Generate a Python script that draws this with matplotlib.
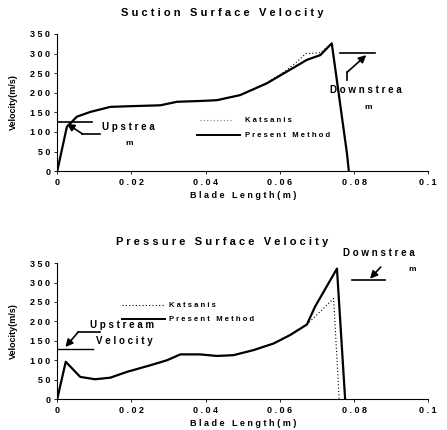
import numpy as np
import matplotlib
matplotlib.use("Agg")
import matplotlib.pyplot as plt

plt.rcParams['font.family'] = ['Liberation Sans', 'DejaVu Sans']
plt.rcParams['font.weight'] = 'bold'

# suction surface
suc_x = [0.0, 0.0026, 0.0053, 0.0089, 0.0143, 0.0206, 0.0278, 0.0323, 0.0385,
         0.0430, 0.0493, 0.0565, 0.0619, 0.0673, 0.0709, 0.0740, 0.0781, 0.0786]
suc_present = [0, 113, 139, 151, 164, 166, 168, 177, 179,
               181, 194, 224, 254, 284, 296, 326, 45, 0]
suc_kats_x = [0.0, 0.0026, 0.0053, 0.0089, 0.0143, 0.0206, 0.0278, 0.0323, 0.0385,
              0.0430, 0.0493, 0.0565, 0.0619, 0.0645, 0.0670, 0.0709, 0.0740, 0.0781, 0.0786]
suc_kats = [0, 113, 139, 151, 164, 166, 168, 177, 179,
            181, 194, 226, 258, 278, 300, 302, 326, 45, 0]

# pressure surface
pre_x = [0.0, 0.0023, 0.0062, 0.0102, 0.0143, 0.0188, 0.0251, 0.0296, 0.0332,
         0.0385, 0.0430, 0.0475, 0.0529, 0.0583, 0.0628, 0.0673, 0.0695, 0.0754, 0.0776]
pre_present = [0, 96, 57, 51, 55, 70, 87, 100, 115,
               115, 111, 113, 126, 143, 165, 192, 238, 336, 0]
pre_kats_x = [0.0, 0.0023, 0.0062, 0.0102, 0.0143, 0.0188, 0.0251, 0.0296, 0.0332,
              0.0385, 0.0430, 0.0475, 0.0529, 0.0583, 0.0628, 0.0673, 0.0745, 0.0760]
pre_kats = [0, 96, 57, 51, 55, 70, 87, 100, 115,
            115, 111, 113, 126, 143, 165, 192, 259, 0]

xticks = [0, 0.02, 0.04, 0.06, 0.08, 0.1]
xticklabels = ['0', '0 . 0 2', '0 . 0 4', '0 . 0 6', '0 . 0 8', '0 . 1']
yticks = [0, 50, 100, 150, 200, 250, 300, 350]
yticklabels = ['0', '5 0', '1 0 0', '1 5 0', '2 0 0', '2 5 0', '3 0 0', '3 5 0']


def spaced(s):
    return ' '.join(s)


def setup(ax, title):
    ax.set_xlim(0, 0.1)
    ax.set_ylim(0, 350)
    ax.spines['top'].set_visible(False)
    ax.spines['right'].set_visible(False)
    ax.set_xticks(xticks)
    ax.set_xticklabels(xticklabels, fontsize=6.5, fontweight='bold')
    ax.set_yticks(yticks)
    ax.set_yticklabels(yticklabels, fontsize=6.5, fontweight='bold')
    ax.tick_params(length=2, width=0.6, pad=3)
    # title sits centred on the page, a bit left of the axes centre
    ax.set_title(spaced(title), fontsize=8, fontweight='bold', pad=13, x=0.445)
    ax.set_xlabel(spaced('Blade Length(m)'), fontsize=6.5, fontweight='bold', labelpad=3)
    ax.set_ylabel('Velocity(m/s)', fontsize=6.5, fontweight='bold', labelpad=9)


def bent_arrow(ax, path, head):
    # shaft as a polyline, head on the last segment
    xs = [p[0] for p in path]
    ys = [p[1] for p in path]
    ax.plot(xs, ys, color='black', lw=1.2, clip_on=False)
    ax.annotate('', xy=head, xytext=path[-1], annotation_clip=False,
                arrowprops=dict(arrowstyle='-|>', color='black', lw=1.2,
                                mutation_scale=11, shrinkA=0, shrinkB=0))


fig = plt.figure(figsize=(4.47, 4.30), dpi=100)
ax1 = fig.add_axes([0.128, 0.602, 0.83, 0.319])
ax2 = fig.add_axes([0.128, 0.072, 0.83, 0.316])

txt = dict(fontsize=7, fontweight='bold')
leg = dict(fontsize=5.5, fontweight='bold', va='center')

# top chart
ax1.plot(suc_kats_x, suc_kats, color='black', lw=0.8, ls=(0, (1, 2)))
ax1.plot(suc_x, suc_present, color='black', lw=1.6)
setup(ax1, 'Suction Surface Velocity')
ax1.plot([0.0385, 0.0474], [130, 130], color='gray', lw=0.8, ls=(0, (1, 2)))
ax1.text(0.0507, 130, spaced('Katsanis'), **leg)
ax1.plot([0.0377, 0.0493], [92, 92], color='black', lw=1.4)
ax1.text(0.0507, 92, spaced('Present Method'), **leg)
ax1.plot([0, 0.0093], [126, 126], color='black', lw=1.2)
bent_arrow(ax1, [(0.0116, 95), (0.0068, 95)], (0.0026, 121))
ax1.text(0.0121, 112, spaced('Upstrea'), va='center', **txt)
ax1.text(0.0185, 70, 'm', va='center', fontsize=6, fontweight='bold')
ax1.plot([0.0763, 0.0857], [301, 301], color='black', lw=1.2, clip_on=False)
bent_arrow(ax1, [(0.0781, 232), (0.0781, 252)], (0.0833, 296))
ax1.text(0.0736, 207, spaced('Downstrea'), va='center', **txt)
ax1.text(0.0828, 163, 'm', va='center', fontsize=6, fontweight='bold')

# bottom chart
ax2.plot(pre_kats_x, pre_kats, color='black', lw=0.8, ls=(0, (1, 2)))
ax2.plot(pre_x, pre_present, color='black', lw=1.6)
setup(ax2, 'Pressure Surface Velocity')
ax2.plot([0.0174, 0.0291], [242, 242], color='black', lw=0.8, ls=(0, (1, 2)))
ax2.text(0.0300, 242, spaced('Katsanis'), **leg)
ax2.plot([0.0174, 0.0291], [206, 206], color='black', lw=1.4)
ax2.text(0.0300, 206, spaced('Present Method'), **leg)
ax2.plot([0, 0.0096], [128, 128], color='black', lw=1.0)
bent_arrow(ax2, [(0.0116, 173), (0.0057, 173)], (0.0022, 134))
ax2.text(0.0089, 192, spaced('Upstream'), va='center', **txt)
ax2.text(0.0105, 149, spaced('Velocity'), va='center', **txt)
ax2.plot([0.0794, 0.0884], [306, 306], color='black', lw=1.2)
bent_arrow(ax2, [(0.0872, 340)], (0.0843, 310))
ax2.text(0.0771, 376, spaced('Downstrea'), va='center', clip_on=False, **txt)
ax2.text(0.0946, 334, 'm', va='center', fontsize=6, fontweight='bold')

fig.savefig('out.png', dpi=100)
